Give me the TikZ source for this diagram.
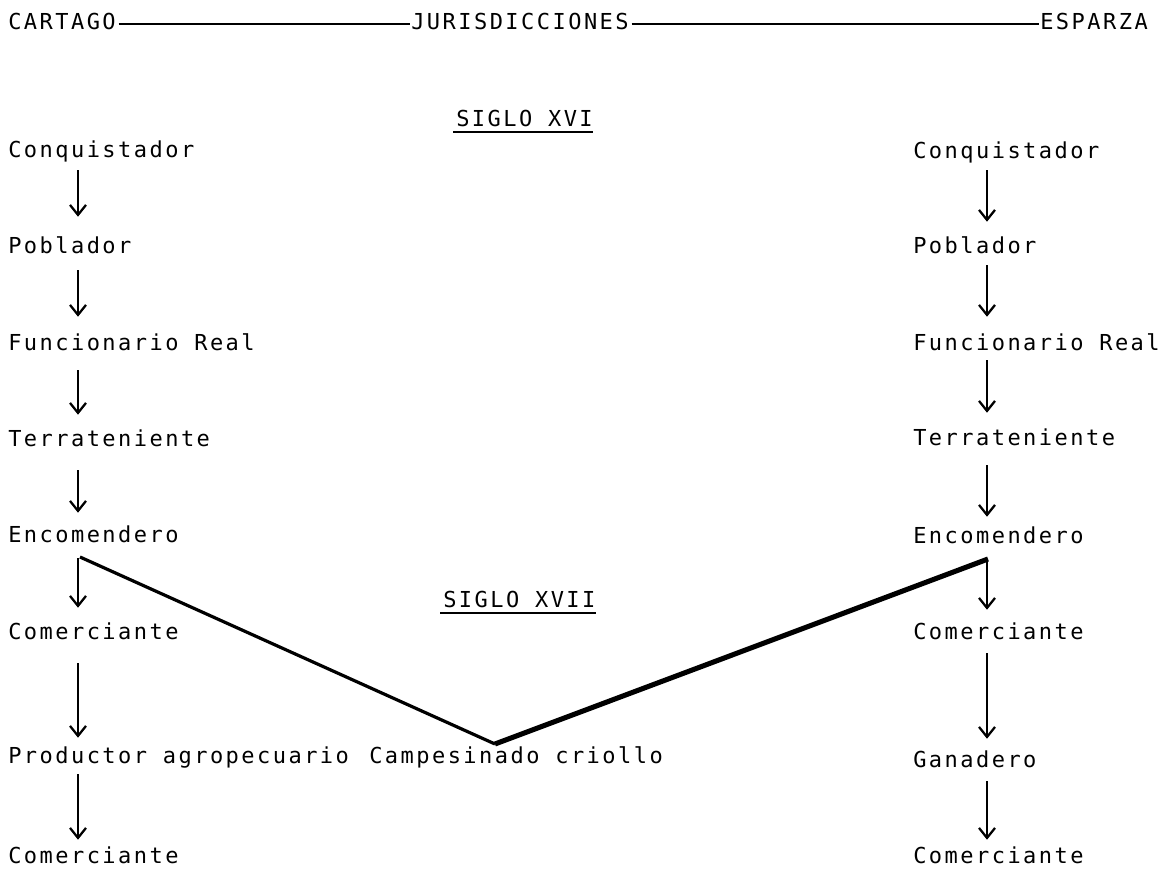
\documentclass[tikz,border=0pt]{standalone}
\usepackage{fontspec}
\newfontfamily\tw[LetterSpace=11.2]{DejaVu Sans Mono}
\usetikzlibrary{arrows.meta}
\begin{document}
\begin{tikzpicture}[x=0.75pt,y=-0.75pt,
  lbl/.style={font=\tw\fontsize{16.5pt}{18pt}\selectfont, anchor=base west,
              inner sep=0pt, text height=12pt, text depth=0pt},
  arr/.style={line width=1.7pt, -{Straight Barb[length=7.5pt,width=12pt]}},
  hrule/.style={line width=2.2pt},
  urule/.style={line width=1.7pt},
  vthin/.style={line width=2.4pt, line join=miter},
  vthick/.style={line width=3.8pt, line join=miter}]
\useasboundingbox (0,0) rectangle (1175,871);
% header
\node[lbl] (cart)  at (8,29)    {CARTAGO};
\node[lbl] (juris) at (411,29)  {JURISDICCIONES};
\node[lbl] (espa)  at (1040,29) {ESPARZA};
\draw[hrule, shorten <=2pt, shorten >=1pt] ([yshift=3.75pt]cart.base east) -- ([yshift=3.75pt]juris.base west);
\draw[hrule, shorten <=2pt, shorten >=1pt] ([yshift=3.75pt]juris.base east) -- ([yshift=3.75pt]espa.base west);
% century labels
\node[lbl] (s16) at (456,126) {SIGLO XVI};
\draw[urule] ([yshift=-4.5pt,xshift=-2pt]s16.base west) -- ([yshift=-4.5pt]s16.base east);
\node[lbl] (s17) at (443,607) {SIGLO XVII};
\draw[urule] ([yshift=-4.5pt,xshift=-2pt]s17.base west) -- ([yshift=-4.5pt]s17.base east);
% column axes
\coordinate (xL) at (78,0);
\coordinate (xR) at (987,0);
% left column (Cartago)
\node[lbl] (L1) at (8,157) {Conquistador};
\node[lbl] (L2) at (8,253) {Poblador};
\node[lbl] (L3) at (8,350) {Funcionario Real};
\node[lbl] (L4) at (8,446) {Terrateniente};
\node[lbl] (L5) at (8,542) {Encomendero};
\node[lbl] (L6) at (8,639) {Comerciante};
\node[lbl] (L7) at (8,763) {Productor agropecuario};
\node[lbl] (L8) at (8,863) {Comerciante};
\node[lbl] (camp) at (369,763) {Campesinado criollo};
% right column (Esparza)
\node[lbl] (R1) at (913,158) {Conquistador};
\node[lbl] (R2) at (913,253) {Poblador};
\node[lbl] (R3) at (913,350) {Funcionario Real};
\node[lbl] (R4) at (913,445) {Terrateniente};
\node[lbl] (R5) at (913,543) {Encomendero};
\node[lbl] (R6) at (913,639) {Comerciante};
\node[lbl] (R7) at (913,767) {Ganadero};
\node[lbl] (R8) at (913,863) {Comerciante};
% left arrows
\draw[arr, shorten <=9.75pt, shorten >=15pt]   (L1.south -| xL) -- (L2.north -| xL);
\draw[arr, shorten <=12.75pt, shorten >=12.75pt] (L2.south -| xL) -- (L3.north -| xL);
\draw[arr, shorten <=15pt, shorten >=11.25pt]  (L3.south -| xL) -- (L4.north -| xL);
\draw[arr, shorten <=18pt, shorten >=9.75pt]   (L4.south -| xL) -- (L5.north -| xL);
\draw[arr, shorten <=12pt, shorten >=11.25pt]  (L5.south -| xL) -- (L6.north -| xL);
\draw[arr, shorten <=18pt, shorten >=6.75pt]   (L6.south -| xL) -- (L7.north -| xL);
\draw[arr, shorten <=8.25pt, shorten >=5.25pt] (L7.south -| xL) -- (L8.north -| xL);
% right arrows
\draw[arr, shorten <=9pt, shorten >=11.25pt]   (R1.south -| xR) -- (R2.north -| xR);
\draw[arr, shorten <=9pt, shorten >=12.75pt]   (R2.south -| xR) -- (R3.north -| xR);
\draw[arr, shorten <=7.5pt, shorten >=12pt]    (R3.south -| xR) -- (R4.north -| xR);
\draw[arr, shorten <=15pt, shorten >=7.5pt]    (R4.south -| xR) -- (R5.north -| xR);
\draw[arr, shorten <=12.75pt, shorten >=9.75pt] (R5.south -| xR) -- (R6.north -| xR);
\draw[arr, shorten <=10.5pt, shorten >=9pt]    (R6.south -| xR) -- (R7.north -| xR);
\draw[arr, shorten <=10.5pt, shorten >=5.25pt] (R7.south -| xR) -- (R8.north -| xR);
% the V joining both Encomenderos to the Campesinado criollo
\coordinate (vL) at (80,557);
\coordinate (vR) at (988,559);
\coordinate (vtx) at (495,744);
\draw[vthin]  (vL) -- (vtx);
\draw[vthick] (vR) -- (vtx);
\end{tikzpicture}
\end{document}
